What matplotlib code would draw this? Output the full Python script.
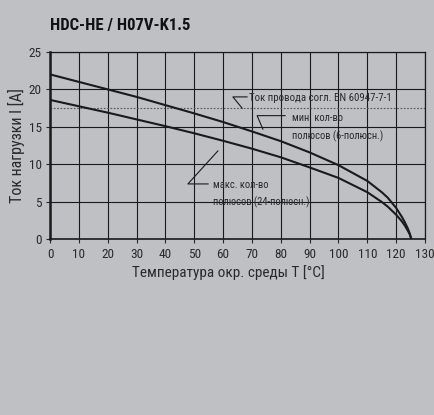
import matplotlib
matplotlib.use('Agg')
import matplotlib.pyplot as plt

plt.rcParams['font.family'] = ['Liberation Sans Narrow', 'DejaVu Sans Condensed', 'Roboto Condensed',
                               'Liberation Sans', 'DejaVu Sans']

# derating curves
temp = [0, 10, 20, 30, 40, 50, 60, 70, 80, 90, 100, 110, 115, 117, 120, 122, 123, 124, 124.7, 125.3]
i_min_poles = [22.0, 21.0, 20.0, 19.0, 17.9, 16.8, 15.65, 14.4, 13.1, 11.6, 9.9, 7.8, 6.3, 5.6, 4.2, 3.0, 2.3, 1.5, 0.8, 0]
i_max_poles = [18.6, 17.75, 16.9, 16.0, 15.1, 14.15, 13.15, 12.1, 10.95, 9.6, 8.2, 6.3, 5.0, 4.4, 3.3, 2.4, 1.85, 1.2, 0.7, 0]
i_wire = 17.5

x_ticks = list(range(0, 131, 10))
y_ticks = [0, 5, 10, 15, 20, 25]

bg = '#bfc0c4'
txt = '#2a2a2a'

fig = plt.figure(figsize=(4.35, 4.15), dpi=100)
fig.patch.set_facecolor(bg)
ax = fig.add_axes([0.115, 0.423, 0.862, 0.452])
ax.set_facecolor(bg)

ax.set_xlim(0, 130)
ax.set_ylim(0, 25)
ax.set_xticks(x_ticks)
ax.set_yticks(y_ticks)
ax.grid(True, color='#1a1a1a', lw=0.8)
ax.set_axisbelow(True)
for s in ax.spines.values():
    s.set_color('#1a1a1a')
    s.set_linewidth(0.9)
ax.spines['left'].set_linewidth(1.8)
ax.spines['bottom'].set_linewidth(1.2)
ax.tick_params(colors=txt, labelsize=9.5, length=3, width=0.8, pad=3)

ax.axhline(i_wire, color='#555555', lw=0.8, ls=(0, (1.5, 1.5)))
ax.plot(temp, i_min_poles, color='#1a1a1a', lw=1.5)
ax.plot(temp, i_max_poles, color='#1a1a1a', lw=1.5)

# leaders and notes
lk = dict(color='#1a1a1a', lw=0.8)
ax.plot([66.6, 63.4, 68.3], [17.5, 19.0, 19.0], **lk)
ax.text(69.0, 18.8, 'Ток провода согл. EN 60947-7-1', fontsize=7.8, color=txt, va='center')
ax.plot([73.8, 71.8, 81.5], [14.7, 16.5, 16.5], **lk)
ax.text(83.9, 16.2, 'мин. кол-во', fontsize=7.6, color=txt, va='center')
ax.text(83.9, 13.8, 'полюсов (6-полюсн.)', fontsize=7.6, color=txt, va='center')
ax.plot([58.2, 47.8, 54.8], [11.8, 7.4, 7.4], **lk)
ax.text(56.5, 7.3, 'макс. кол-во', fontsize=7.6, color=txt, va='center')
ax.text(56.5, 4.9, 'полюсов (24-полюсн.)', fontsize=7.6, color=txt, va='center')

ax.set_xlabel('Температура окр. среды T [°C]', fontsize=11, color=txt)
ax.xaxis.set_label_coords(0.475, -0.135)
ax.set_ylabel('Ток нагрузки I [A]', fontsize=11.5, color=txt)
ax.yaxis.set_label_coords(-0.066, 0.5)
fig.text(0.115, 0.938, 'HDC-HE / H07V-K1.5', fontsize=12, fontweight='bold', color='#111111', va='center')

fig.savefig('out.png', dpi=100, facecolor=bg)
